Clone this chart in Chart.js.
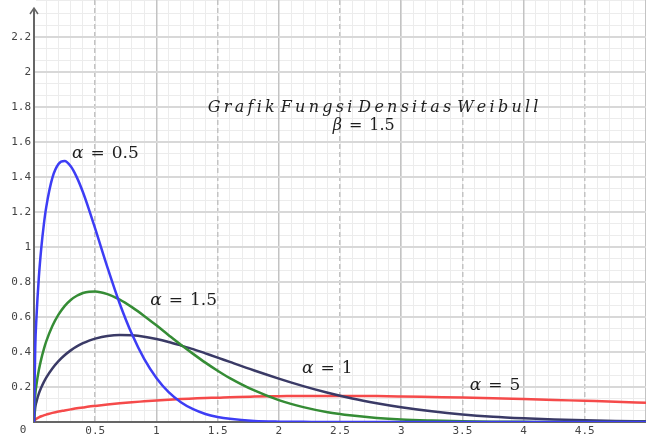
<!DOCTYPE html>
<html>
<head>
<meta charset="utf-8">
<script src="https://cdn.jsdelivr.net/npm/chart.js@4.4.0/dist/chart.umd.min.js"></script>
<style>
  html, body { margin: 0; padding: 0; background: #fff; }
</style>
</head>
<body>
<canvas id="chart" width="646" height="436"></canvas>
<script>
// sample points along x and the density values of each curve (beta = 1.5)
const xValues = [0, 0.01, 0.02, 0.04, 0.06, 0.08, 0.1, 0.15, 0.2, 0.25, 0.3, 0.35, 0.4, 0.45, 0.5,
  0.6, 0.7, 0.8, 0.9, 1.0, 1.1, 1.2, 1.3, 1.4, 1.5, 1.6, 1.8, 2.0, 2.2, 2.4, 2.6, 2.8, 3.0,
  3.25, 3.5, 3.75, 4.0, 4.25, 4.5, 4.75, 5.0];

const blueCurve = [0, 0.423, 0.595, 0.830, 0.997, 1.126, 1.227, 1.394, 1.473, 1.490, 1.460, 1.397, 1.312, 1.212, 1.104,
  0.883, 0.677, 0.502, 0.360, 0.251, 0.170, 0.113, 0.073, 0.046, 0.029, 0.018, 0.006, 0.002, 0.001, 0, 0, 0, 0,
  0, 0, 0, 0, 0, 0, 0, 0];
const greenCurve = [0, 0.150, 0.212, 0.298, 0.362, 0.415, 0.460, 0.548, 0.613, 0.662, 0.697, 0.721, 0.737, 0.744, 0.745,
  0.730, 0.699, 0.656, 0.606, 0.552, 0.496, 0.441, 0.389, 0.339, 0.293, 0.251, 0.180, 0.125, 0.085, 0.056, 0.037, 0.023, 0.014,
  0.008, 0.004, 0.002, 0.001, 0, 0, 0, 0];
const navyCurve = [0, 0.082, 0.115, 0.163, 0.198, 0.228, 0.254, 0.306, 0.348, 0.381, 0.409, 0.432, 0.450, 0.465, 0.476,
  0.491, 0.497, 0.495, 0.487, 0.474, 0.457, 0.437, 0.416, 0.392, 0.368, 0.343, 0.294, 0.248, 0.205, 0.167, 0.134, 0.107, 0.084,
  0.061, 0.043, 0.030, 0.021, 0.014, 0.010, 0.006, 0.004];
const redCurve = [0, 0.013, 0.019, 0.027, 0.033, 0.038, 0.042, 0.052, 0.060, 0.066, 0.072, 0.078, 0.083, 0.088, 0.092,
  0.100, 0.107, 0.113, 0.118, 0.123, 0.127, 0.131, 0.134, 0.137, 0.139, 0.142, 0.145, 0.147, 0.149, 0.149, 0.149, 0.148, 0.146,
  0.143, 0.140, 0.136, 0.131, 0.126, 0.121, 0.116, 0.110];

// curve captions: alpha value, left edge (x) and baseline (y) in data units
const captionValues = ['0.5', '1.5', '1', '5'];
const captionX = [0.31, 0.95, 2.19, 3.56];
const captionY = [1.507, 0.667, 0.278, 0.181];

const titleText = 'Grafik Fungsi Densitas Weibull';
const betaText = '1.5';

const xMax = 5;
const yMax = 2.41;

function isMultiple(v, step) {
    const r = v / step;
    return Math.abs(r - Math.round(r)) < 1e-6;
}

function toPoints(ys) {
    return xValues.map((x, i) => ({ x: x, y: ys[i] }));
}

function curve(label, ys, color) {
    return {
        label: label,
        data: toPoints(ys),
        borderColor: color,
        borderWidth: 2.5,
        pointRadius: 0,
        fill: false,
        cubicInterpolationMode: 'monotone'
    };
}

// draws "α = 0.5" style captions: italic greek letter, upright rest
function drawMath(ctx, greek, value, left, baseline, size) {
    ctx.save();
    ctx.textBaseline = 'alphabetic';
    ctx.textAlign = 'left';
    ctx.fillStyle = '#1e1e1e';
    ctx.font = `italic ${size}px "DejaVu Serif"`;
    ctx.fillText(greek, left, baseline);
    let x = left + ctx.measureText(greek).width + 7;
    ctx.font = `${size}px "DejaVu Serif"`;
    ctx.fillText('=', x, baseline);
    x += ctx.measureText('=').width + 7;
    ctx.fillText(value, x, baseline);
    ctx.restore();
}

// title in spaced italic letters, words separated by a small gap
function drawTitle(ctx, text, left, baseline, width) {
    const words = text.split(' ');
    const wordGap = 6;
    ctx.save();
    ctx.font = 'italic 16px "DejaVu Serif"';
    ctx.fillStyle = '#1e1e1e';
    ctx.textBaseline = 'alphabetic';
    ctx.textAlign = 'left';
    ctx.letterSpacing = '0px';
    let plain = 0;
    let gaps = 0;
    words.forEach(w => {
        plain += ctx.measureText(w).width;
        gaps += w.length - 1;
    });
    const spacing = (width - plain - wordGap * (words.length - 1)) / gaps;
    let x = left;
    words.forEach(w => {
        for (const ch of w) {
            ctx.fillText(ch, x, baseline);
            x += ctx.measureText(ch).width + spacing;
        }
        x += wordGap - spacing;
    });
    ctx.restore();
}

const annotations = {
    id: 'annotations',
    afterDraw(chart) {
        const { ctx, scales: { x, y } } = chart;

        captionValues.forEach((val, i) => {
            drawMath(ctx, 'α', val, x.getPixelForValue(captionX[i]), y.getPixelForValue(captionY[i]), 17);
        });

        drawTitle(ctx, titleText, x.getPixelForValue(1.42), y.getPixelForValue(1.77), 329);
        drawMath(ctx, 'β', betaText, x.getPixelForValue(2.44), y.getPixelForValue(1.667), 16);

        // origin label and arrow head on the y axis
        ctx.save();
        ctx.font = '11px "DejaVu Sans Mono"';
        ctx.fillStyle = '#444';
        ctx.textAlign = 'center';
        ctx.textBaseline = 'middle';
        ctx.fillText('0', x.left - 11, y.bottom + 8);

        ctx.strokeStyle = '#666';
        ctx.lineWidth = 1.5;
        ctx.clearRect(x.left - 2, 0, 4, 8);
        ctx.beginPath();
        ctx.moveTo(x.left - 4, 14);
        ctx.lineTo(x.left, 8);
        ctx.lineTo(x.left + 4, 14);
        ctx.stroke();
        ctx.restore();
    }
};

function noPadding(scale) {
    scale.paddingLeft = 0;
    scale.paddingRight = 0;
    scale.paddingTop = 0;
    scale.paddingBottom = 0;
}

new Chart(document.getElementById('chart'), {
    type: 'line',
    data: {
        datasets: [
            curve('α = 0.5', blueCurve, '#3d3df5'),
            curve('α = 1.5', greenCurve, '#358c35'),
            curve('α = 1', navyCurve, '#3a3a66'),
            curve('α = 5', redCurve, '#f54a4a')
        ]
    },
    options: {
        responsive: false,
        animation: false,
        layout: { padding: 0 },
        plugins: {
            legend: { display: false },
            tooltip: { enabled: false }
        },
        scales: {
            x: {
                type: 'linear',
                min: 0,
                max: xMax,
                ticks: {
                    stepSize: 0.5,
                    autoSkip: false,
                    maxRotation: 0,
                    padding: 3,
                    color: '#444',
                    font: { family: 'DejaVu Sans Mono', size: 11 },
                    callback: v => (v > 0 && v < xMax && isMultiple(v, 0.5)) ? String(v) : ''
                },
                grid: {
                    drawTicks: false,
                    color: '#c3c3c3',
                    lineWidth: 1.5,
                    z: -1
                },
                border: {
                    color: '#666',
                    width: 2,
                    dash: ctx => (ctx.tick && !isMultiple(ctx.tick.value, 1)) ? [5, 3] : []
                },
                afterFit: scale => { scale.height = 14; noPadding(scale); }
            },
            xMinor: {
                type: 'linear',
                position: 'bottom',
                min: 0,
                max: xMax * 10,
                ticks: { display: false, stepSize: 1, autoSkip: false },
                grid: { drawTicks: false, color: '#ececec', lineWidth: 1, z: -2 },
                border: { display: false },
                afterFit: scale => { scale.height = 0; noPadding(scale); }
            },
            y: {
                type: 'linear',
                min: 0,
                max: yMax,
                ticks: {
                    stepSize: 0.2,
                    autoSkip: false,
                    padding: 3,
                    color: '#444',
                    font: { family: 'DejaVu Sans Mono', size: 11 },
                    callback: v => (v > 0 && v <= 2.2001 && isMultiple(v, 0.2)) ? String(Math.round(v * 10) / 10) : ''
                },
                grid: {
                    drawTicks: false,
                    color: ctx => (ctx.tick && isMultiple(ctx.tick.value, 0.2)) ? '#d8d8d8' : 'rgba(0,0,0,0)',
                    lineWidth: 2,
                    z: -1
                },
                border: { color: '#666', width: 2 },
                afterFit: scale => { scale.width = 34; noPadding(scale); }
            },
            yMinor: {
                type: 'linear',
                position: 'left',
                min: 0,
                max: yMax * 15,
                ticks: { display: false, stepSize: 1, autoSkip: false },
                grid: { drawTicks: false, color: '#ececec', lineWidth: 1, z: -2 },
                border: { display: false },
                afterFit: scale => { scale.width = 0; noPadding(scale); }
            }
        }
    },
    plugins: [annotations]
});
</script>
</body>
</html>
